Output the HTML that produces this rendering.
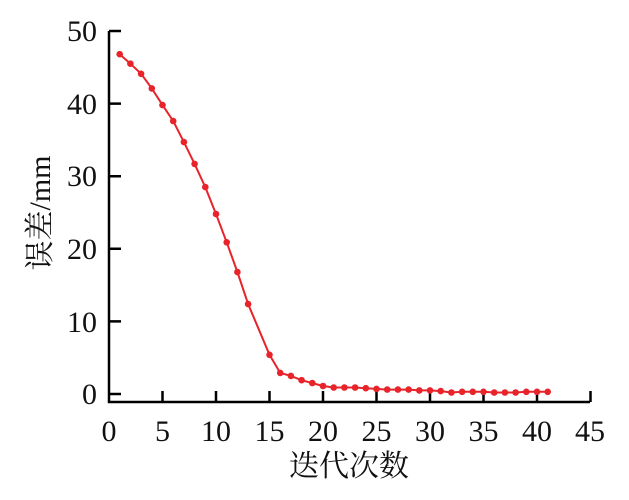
<!DOCTYPE html>
<html><head><meta charset="utf-8"><style>body{margin:0;background:#fff}</style></head><body>
<svg width="629" height="495" xmlns="http://www.w3.org/2000/svg" font-family="'Liberation Serif','Noto Serif CJK SC',serif">
<defs><marker id="m" viewBox="-4 -4 8 8" markerWidth="8" markerHeight="8" markerUnits="userSpaceOnUse" refX="0" refY="0"><circle r="3.3" fill="#e8232a"/></marker></defs>
<g stroke="#000" stroke-width="2.5" fill="none">
<path d="M109 31 V402 H590"/>
<path d="M109 31 h12 M109 103.6 h12 M109 176.2 h12 M109 248.8 h12 M109 321.4 h12 M109 394 h12"/>
<path d="M162.5 402 v-11 M216 402 v-11 M269.5 402 v-11 M323 402 v-11 M376.5 402 v-11 M430 402 v-11 M483.5 402 v-11 M537 402 v-11 M590.5 402 v-11"/>
</g>
<g font-size="30" fill="#111" text-anchor="end">
<text x="97" y="41">50</text><text x="97" y="114">40</text><text x="97" y="186">30</text><text x="97" y="259">20</text><text x="97" y="332">10</text><text x="97" y="404">0</text>
</g>
<g font-size="30" fill="#111" text-anchor="middle">
<text x="109" y="441">0</text><text x="162.5" y="441">5</text><text x="216" y="441">10</text><text x="269.5" y="441">15</text><text x="323" y="441">20</text><text x="376.5" y="441">25</text><text x="430" y="441">30</text><text x="483.5" y="441">35</text><text x="537" y="441">40</text><text x="590" y="441">45</text>
<text x="349" y="476" font-size="30">迭代次数</text>
<text transform="translate(50,213) rotate(-90)" font-size="30">误差/mm</text>
</g>
<polyline fill="none" stroke="#e8232a" stroke-width="2" marker-start="url(#m)" marker-mid="url(#m)" marker-end="url(#m)" points="119.7,54.2 130.4,63.7 141.1,73.8 151.8,88.4 162.5,105.1 173.2,121.0 183.9,142.1 194.6,163.9 205.3,187.1 216.0,214.0 226.7,242.3 237.4,272.0 248.1,304.0 269.5,354.8 280.2,372.9 290.9,375.9 301.6,380.2 312.3,383.1 323.0,386.0 333.7,387.5 344.4,387.5 355.1,387.5 365.8,388.2 376.5,388.9 387.2,389.6 397.9,389.6 408.6,389.6 419.3,390.4 430.0,390.4 440.7,391.1 451.4,392.5 462.1,391.8 472.8,391.8 483.5,391.8 494.2,392.5 504.9,392.5 515.6,392.5 526.3,391.8 537.0,391.8 547.7,391.8"/>
</svg>
</body></html>
